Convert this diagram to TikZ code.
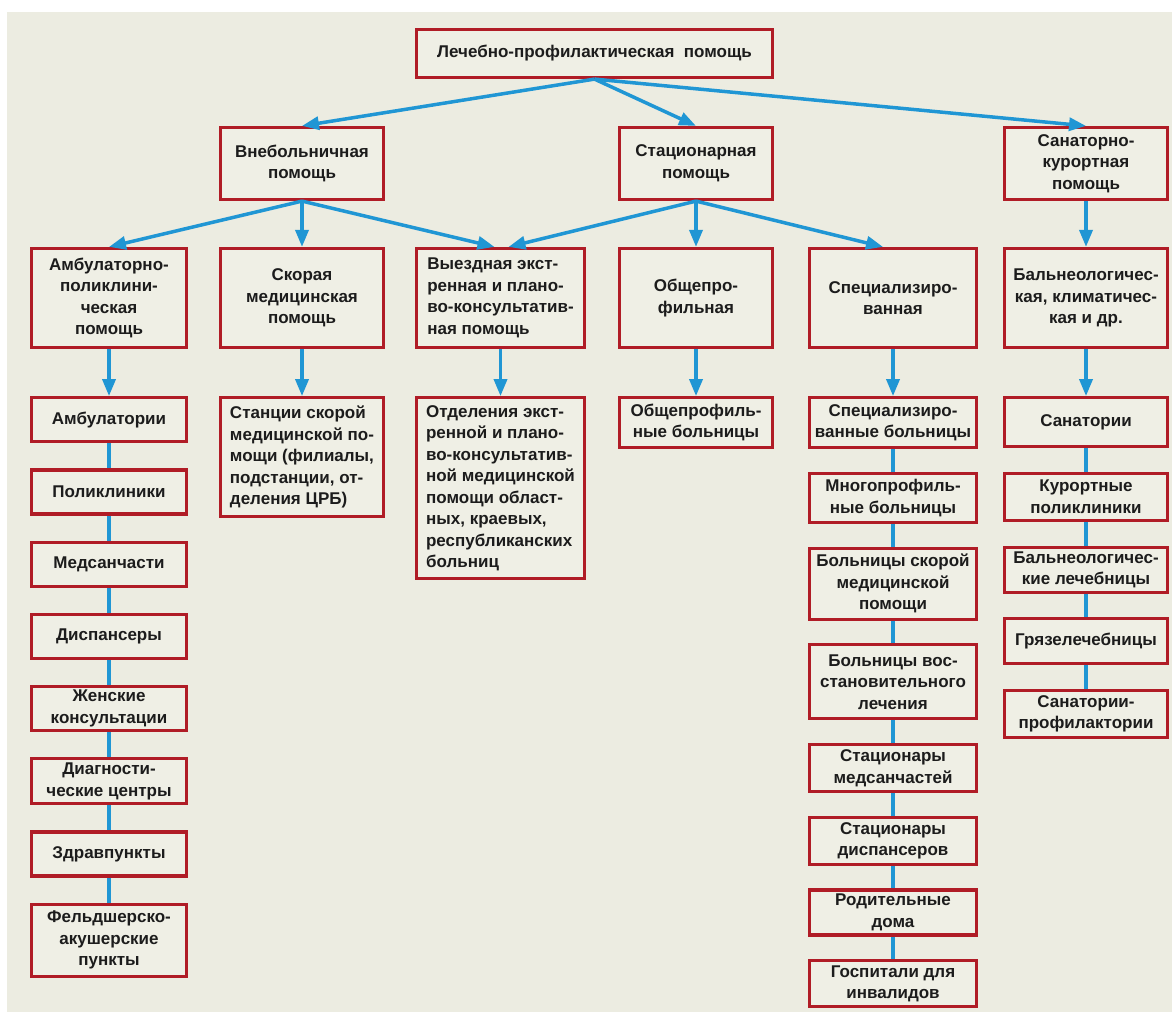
\documentclass[tikz,border=0pt]{standalone}
\usepackage{fontspec}
\setmainfont{Liberation Sans}
\usepackage{tikz}
\usetikzlibrary{arrows.meta, positioning}
\definecolor{boxred}{RGB}{176,28,38}
\definecolor{boxfill}{RGB}{239,239,229}
\definecolor{bgbeige}{RGB}{236,236,225}
\definecolor{arrowblue}{RGB}{32,150,212}
\definecolor{txtdark}{RGB}{28,28,28}
\newcommand{\boxfont}{\bfseries\fontsize{17}{21.5}\selectfont}
\tikzset{
  box/.style={rectangle, draw=boxred, fill=boxfill, text=txtdark,
    align=center, font=\boxfont, inner sep=2pt, line width=3.2pt},
  leftbox/.style={box, align=left},
  arrow/.style={-{Triangle[length=17pt,width=13pt]}, line width=3.5pt, color=arrowblue},
  line/.style={line width=3.5pt, color=arrowblue}
}

\begin{document}
\begin{tikzpicture}[x=1pt, y=1pt]
  \useasboundingbox (0,0) rectangle (1172,-1012);
  \fill[white] (0,0) rectangle (1172,-1012);
  \fill[bgbeige] (7,-12) rectangle (1172,-1012);

  % top
  \node[box, minimum width=356pt, minimum height=48pt] (lpp) at (594.5,-53.5) {Лечебно-профилактическая\ \ помощь};

  % level 2
  \node[box, minimum width=163pt, minimum height=72pt] (vne) at (302,-163.5) {Внебольничная\\помощь};
  \node[box, minimum width=153pt, minimum height=72pt] (stac) at (696,-163.5) {Стационарная\\помощь};
  \node[box, minimum width=163pt, minimum height=72pt] (sank) at (1086,-163.5) {Санаторно-\\курортная\\помощь};

  % level 3
  \node[box, minimum width=155pt, minimum height=99pt] (amb) at (109,-298) {Амбулаторно-\\поликлини-\\ческая\\помощь};
  \node[box, minimum width=163pt, minimum height=99pt] (skor) at (302,-298) {Скорая\\медицинская\\помощь};
  \node[leftbox, minimum width=168pt, minimum height=99pt] (vyezd) at (500.5,-298) {Выездная экст-\\ренная и плано-\\во-консультатив-\\ная помощь};
  \node[box, minimum width=153pt, minimum height=99pt] (obsh) at (696,-298) {Общепро-\\фильная};
  \node[box, minimum width=167pt, minimum height=99pt] (spec) at (893,-298) {Специализиро-\\ванная};
  \node[box, minimum width=163pt, minimum height=99pt] (baln) at (1086,-298) {Бальнеологичес-\\кая, климатичес-\\кая и др.};

  % outpatient column
  \node[box, minimum width=155pt, minimum height=44pt, below=47pt of amb] (amb1) {Амбулатории};
  \node[box, minimum width=155pt, minimum height=44pt, below=25pt of amb1] (amb2) {Поликлиники};
  \node[box, minimum width=155pt, minimum height=44pt, below=25pt of amb2] (amb3) {Медсанчасти};
  \node[box, minimum width=155pt, minimum height=44pt, below=25pt of amb3] (amb4) {Диспансеры};
  \node[box, minimum width=155pt, minimum height=44pt, below=25pt of amb4] (amb5) {Женские\\консультации};
  \node[box, minimum width=155pt, minimum height=45pt, below=25pt of amb5] (amb6) {Диагности-\\ческие центры};
  \node[box, minimum width=155pt, minimum height=44pt, below=25pt of amb6] (amb7) {Здравпункты};
  \node[box, minimum width=155pt, minimum height=72pt, below=25pt of amb7] (amb8) {Фельдшерско-\\акушерские\\пункты};

  \node[leftbox, minimum width=163pt, minimum height=119pt, below=47pt of skor] (skor1) {Станции скорой\\медицинской по-\\мощи (филиалы,\\подстанции, от-\\деления ЦРБ)};
  \node[leftbox, minimum width=168pt, minimum height=181pt, below=47pt of vyezd] (vyezd1) {Отделения экст-\\ренной и плано-\\во-консультатив-\\ной медицинской\\помощи област-\\ных, краевых,\\республиканских\\больниц};
  \node[box, minimum width=153pt, minimum height=50pt, below=47pt of obsh] (obsh1) {Общепрофиль-\\ные больницы};

  % specialized column
  \node[box, minimum width=167pt, minimum height=50pt, below=47pt of spec] (spec1) {Специализиро-\\ванные больницы};
  \node[box, minimum width=167pt, minimum height=49pt, below=22.5pt of spec1] (spec2) {Многопрофиль-\\ные больницы};
  \node[box, minimum width=167pt, minimum height=71pt, below=22.5pt of spec2] (spec3) {Больницы скорой\\медицинской\\помощи};
  \node[box, minimum width=167pt, minimum height=74pt, below=22.5pt of spec3] (spec4) {Больницы вос-\\становительного\\лечения};
  \node[box, minimum width=167pt, minimum height=47pt, below=22.5pt of spec4] (spec5) {Стационары\\медсанчастей};
  \node[box, minimum width=167pt, minimum height=47pt, below=22.5pt of spec5] (spec6) {Стационары\\диспансеров};
  \node[box, minimum width=167pt, minimum height=45pt, below=22.5pt of spec6] (spec7) {Родительные\\дома};
  \node[box, minimum width=167pt, minimum height=46pt, below=22.5pt of spec7] (spec8) {Госпитали для\\инвалидов};

  % resort column
  \node[box, minimum width=163pt, minimum height=49pt, below=47pt of baln] (baln1) {Санатории};
  \node[box, minimum width=163pt, minimum height=47pt, below=23.5pt of baln1] (baln2) {Курортные\\поликлиники};
  \node[box, minimum width=163pt, minimum height=45pt, below=23.5pt of baln2] (baln3) {Бальнеологичес-\\кие лечебницы};
  \node[box, minimum width=163pt, minimum height=45pt, below=23.5pt of baln3] (baln4) {Грязелечебницы};
  \node[box, minimum width=163pt, minimum height=47pt, below=23.5pt of baln4] (baln5) {Санатории-\\профилактории};

  % arrows
  \draw[arrow] (lpp.south) -- (vne.north);
  \draw[arrow] (lpp.south) -- (stac.north);
  \draw[arrow] (lpp.south) -- (sank.north);
  \draw[arrow] (vne.south) -- (amb.north);
  \draw[arrow] (vne.south) -- (skor.north);
  \draw[arrow] (vne.south) -- ([xshift=-6pt]vyezd.north);
  \draw[arrow] (stac.south) -- ([xshift=8pt]vyezd.north);
  \draw[arrow] (stac.south) -- (obsh.north);
  \draw[arrow] (stac.south) -- ([xshift=-10pt]spec.north);
  \draw[arrow] (sank.south) -- (baln.north);
  \draw[arrow] (amb) -- (amb1);
  \draw[arrow] (skor) -- (skor1);
  \draw[arrow] (vyezd) -- (vyezd1);
  \draw[arrow] (obsh) -- (obsh1);
  \draw[arrow] (spec) -- (spec1);
  \draw[arrow] (baln) -- (baln1);

  % plain links
  \foreach \a/\b in {amb1/amb2, amb2/amb3, amb3/amb4, amb4/amb5, amb5/amb6, amb6/amb7, amb7/amb8,
    spec1/spec2, spec2/spec3, spec3/spec4, spec4/spec5, spec5/spec6, spec6/spec7, spec7/spec8,
    baln1/baln2, baln2/baln3, baln3/baln4, baln4/baln5}
    \draw[line] (\a) -- (\b);
\end{tikzpicture}
\end{document}
